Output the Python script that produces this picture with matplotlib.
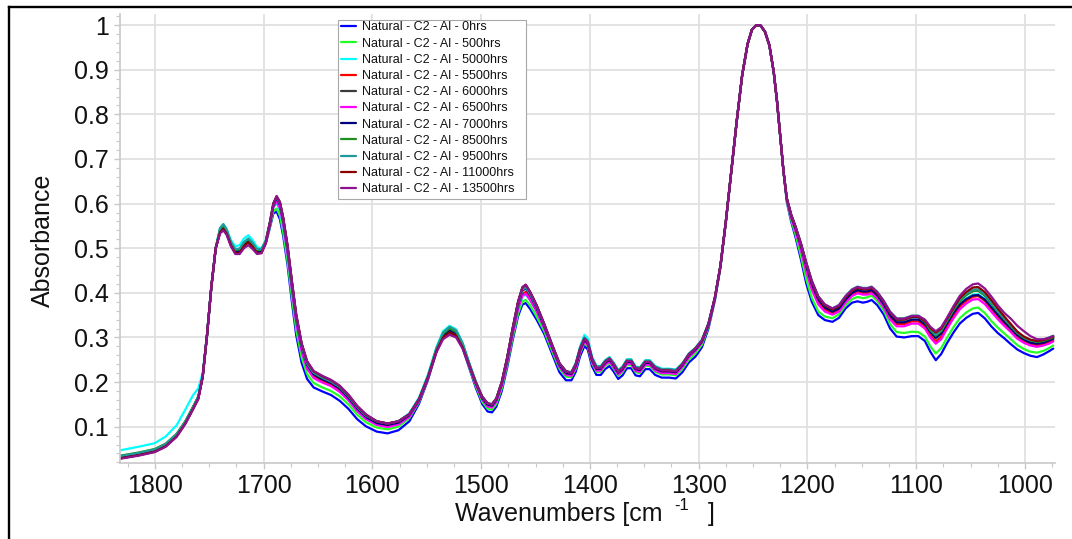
import matplotlib
matplotlib.use("Agg")
import matplotlib.pyplot as plt
from matplotlib.patches import Rectangle
from matplotlib.lines import Line2D
from matplotlib.ticker import MultipleLocator, FuncFormatter

plt.rcParams['font.family'] = ['Liberation Sans', 'DejaVu Sans']

# Wavenumber grid (cm^-1), descending
wavenumbers = [
    1832, 1815, 1800, 1790, 1780, 1772, 1765, 1760, 1756, 1752,
    1748, 1744, 1740, 1737, 1734, 1730, 1726, 1722, 1718, 1714,
    1710, 1706, 1702, 1698, 1694, 1691, 1688, 1685, 1682, 1678,
    1674, 1670, 1665, 1660, 1654, 1646, 1638, 1630, 1622, 1614,
    1606, 1596, 1586, 1576, 1566, 1557, 1549, 1541, 1535, 1529,
    1523, 1517, 1511, 1505, 1499, 1494, 1490, 1486, 1481, 1476,
    1471, 1466, 1462, 1459, 1455, 1449, 1442, 1435, 1428, 1422,
    1417, 1413, 1409, 1405, 1402, 1398, 1394, 1390, 1386, 1382,
    1378, 1374, 1370, 1366, 1362, 1358, 1354, 1349, 1345, 1340,
    1334, 1327, 1321, 1315, 1309, 1303, 1297, 1291, 1285, 1280,
    1275, 1270, 1265, 1260, 1255, 1251, 1247, 1243, 1239, 1235,
    1231, 1228, 1225, 1222, 1219, 1215, 1211, 1206, 1201, 1196,
    1190, 1184, 1177, 1171, 1165, 1159, 1154, 1149, 1145, 1141,
    1136, 1130, 1124, 1118, 1111, 1104, 1098, 1092, 1087, 1082,
    1077, 1072, 1066, 1060, 1054, 1048, 1043, 1037, 1031, 1025,
    1019, 1013, 1007, 1001, 995, 989, 983, 978, 974,
]

abs_0hrs = [
    0.031, 0.038, 0.046, 0.058, 0.080, 0.110, 0.142, 0.166, 0.212, 0.305,
    0.414, 0.500, 0.537, 0.545, 0.534, 0.507, 0.491, 0.492, 0.507, 0.515,
    0.505, 0.491, 0.491, 0.510, 0.548, 0.578, 0.582, 0.565, 0.528, 0.463,
    0.380, 0.305, 0.243, 0.207, 0.188, 0.179, 0.171, 0.158, 0.140, 0.117,
    0.101, 0.089, 0.085, 0.092, 0.112, 0.152, 0.204, 0.269, 0.301, 0.312,
    0.304, 0.276, 0.232, 0.188, 0.151, 0.134, 0.132, 0.145, 0.180, 0.233,
    0.294, 0.348, 0.374, 0.377, 0.364, 0.340, 0.308, 0.265, 0.222, 0.204,
    0.204, 0.223, 0.258, 0.281, 0.273, 0.235, 0.216, 0.216, 0.229, 0.236,
    0.223, 0.207, 0.215, 0.231, 0.231, 0.215, 0.213, 0.229, 0.229, 0.216,
    0.210, 0.210, 0.208, 0.222, 0.244, 0.257, 0.278, 0.320, 0.384, 0.457,
    0.560, 0.672, 0.785, 0.888, 0.958, 0.990, 1.000, 0.999, 0.985, 0.955,
    0.895, 0.830, 0.750, 0.672, 0.604, 0.560, 0.525, 0.475, 0.420, 0.380,
    0.350, 0.339, 0.335, 0.344, 0.365, 0.378, 0.381, 0.378, 0.380, 0.384,
    0.373, 0.352, 0.320, 0.302, 0.300, 0.303, 0.303, 0.292, 0.268, 0.249,
    0.263, 0.286, 0.310, 0.331, 0.344, 0.353, 0.355, 0.343, 0.325, 0.310,
    0.298, 0.285, 0.273, 0.265, 0.259, 0.256, 0.262, 0.269, 0.275,
]

abs_500hrs = [
    0.033, 0.040, 0.048, 0.060, 0.082, 0.110, 0.142, 0.166, 0.212, 0.305,
    0.414, 0.500, 0.538, 0.546, 0.535, 0.508, 0.493, 0.494, 0.509, 0.517,
    0.507, 0.493, 0.493, 0.511, 0.551, 0.583, 0.589, 0.573, 0.536, 0.472,
    0.391, 0.317, 0.255, 0.218, 0.198, 0.188, 0.180, 0.168, 0.150, 0.127,
    0.110, 0.098, 0.094, 0.100, 0.119, 0.156, 0.206, 0.270, 0.302, 0.313,
    0.306, 0.278, 0.234, 0.192, 0.156, 0.140, 0.138, 0.151, 0.186, 0.239,
    0.300, 0.354, 0.381, 0.384, 0.372, 0.347, 0.314, 0.271, 0.230, 0.212,
    0.211, 0.230, 0.265, 0.288, 0.280, 0.242, 0.223, 0.223, 0.236, 0.243,
    0.230, 0.214, 0.222, 0.238, 0.238, 0.222, 0.220, 0.236, 0.236, 0.223,
    0.217, 0.217, 0.215, 0.229, 0.251, 0.264, 0.284, 0.324, 0.387, 0.458,
    0.560, 0.672, 0.785, 0.888, 0.958, 0.990, 1.000, 0.999, 0.985, 0.955,
    0.895, 0.830, 0.750, 0.672, 0.606, 0.564, 0.531, 0.483, 0.430, 0.389,
    0.358, 0.347, 0.343, 0.352, 0.372, 0.386, 0.391, 0.388, 0.390, 0.394,
    0.382, 0.361, 0.330, 0.312, 0.310, 0.313, 0.312, 0.302, 0.280, 0.264,
    0.276, 0.298, 0.322, 0.343, 0.356, 0.365, 0.367, 0.355, 0.337, 0.322,
    0.309, 0.296, 0.283, 0.274, 0.268, 0.266, 0.270, 0.276, 0.282,
]

abs_5000hrs = [
    0.047, 0.055, 0.063, 0.078, 0.103, 0.138, 0.170, 0.186, 0.220, 0.307,
    0.414, 0.502, 0.545, 0.554, 0.543, 0.518, 0.504, 0.507, 0.522, 0.529,
    0.518, 0.502, 0.500, 0.517, 0.558, 0.592, 0.601, 0.585, 0.548, 0.485,
    0.405, 0.332, 0.270, 0.233, 0.213, 0.204, 0.196, 0.184, 0.165, 0.141,
    0.123, 0.110, 0.106, 0.112, 0.130, 0.166, 0.216, 0.279, 0.314, 0.326,
    0.318, 0.288, 0.243, 0.200, 0.163, 0.146, 0.144, 0.157, 0.194, 0.247,
    0.308, 0.364, 0.392, 0.396, 0.384, 0.360, 0.324, 0.282, 0.240, 0.224,
    0.221, 0.242, 0.280, 0.306, 0.298, 0.257, 0.236, 0.236, 0.249, 0.256,
    0.243, 0.227, 0.235, 0.251, 0.251, 0.235, 0.233, 0.249, 0.249, 0.236,
    0.230, 0.230, 0.228, 0.242, 0.264, 0.277, 0.295, 0.332, 0.390, 0.460,
    0.560, 0.672, 0.785, 0.888, 0.958, 0.990, 1.000, 0.999, 0.985, 0.955,
    0.895, 0.830, 0.750, 0.672, 0.610, 0.571, 0.542, 0.500, 0.453, 0.413,
    0.380, 0.364, 0.357, 0.366, 0.387, 0.402, 0.408, 0.405, 0.405, 0.408,
    0.397, 0.377, 0.349, 0.334, 0.334, 0.340, 0.340, 0.329, 0.310, 0.297,
    0.308, 0.328, 0.354, 0.375, 0.388, 0.396, 0.397, 0.387, 0.370, 0.352,
    0.338, 0.322, 0.306, 0.295, 0.288, 0.285, 0.287, 0.291, 0.295,
]

abs_5500hrs = [
    0.029, 0.036, 0.044, 0.056, 0.078, 0.107, 0.139, 0.163, 0.212, 0.305,
    0.414, 0.500, 0.536, 0.544, 0.533, 0.506, 0.490, 0.491, 0.506, 0.514,
    0.504, 0.490, 0.490, 0.513, 0.557, 0.596, 0.610, 0.596, 0.560, 0.495,
    0.415, 0.340, 0.275, 0.235, 0.213, 0.202, 0.194, 0.181, 0.162, 0.137,
    0.119, 0.106, 0.101, 0.107, 0.124, 0.159, 0.208, 0.271, 0.302, 0.313,
    0.306, 0.279, 0.238, 0.198, 0.163, 0.147, 0.145, 0.158, 0.194, 0.247,
    0.310, 0.368, 0.397, 0.402, 0.388, 0.362, 0.324, 0.280, 0.237, 0.219,
    0.216, 0.235, 0.270, 0.293, 0.285, 0.247, 0.228, 0.228, 0.241, 0.248,
    0.235, 0.219, 0.227, 0.243, 0.243, 0.227, 0.225, 0.241, 0.241, 0.228,
    0.222, 0.222, 0.220, 0.236, 0.258, 0.272, 0.291, 0.329, 0.390, 0.460,
    0.560, 0.672, 0.785, 0.888, 0.958, 0.990, 1.000, 0.999, 0.985, 0.955,
    0.895, 0.830, 0.750, 0.672, 0.610, 0.571, 0.542, 0.501, 0.453, 0.413,
    0.379, 0.362, 0.354, 0.362, 0.382, 0.397, 0.403, 0.400, 0.400, 0.403,
    0.392, 0.372, 0.345, 0.330, 0.330, 0.336, 0.336, 0.325, 0.305, 0.291,
    0.302, 0.324, 0.348, 0.369, 0.382, 0.391, 0.393, 0.382, 0.364, 0.347,
    0.331, 0.316, 0.301, 0.291, 0.285, 0.282, 0.285, 0.289, 0.294,
]

abs_6000hrs = [
    0.033, 0.040, 0.048, 0.060, 0.082, 0.110, 0.142, 0.166, 0.212, 0.305,
    0.414, 0.500, 0.540, 0.548, 0.537, 0.510, 0.494, 0.495, 0.510, 0.518,
    0.508, 0.494, 0.494, 0.515, 0.560, 0.600, 0.616, 0.603, 0.568, 0.505,
    0.425, 0.350, 0.285, 0.245, 0.223, 0.212, 0.203, 0.190, 0.170, 0.145,
    0.126, 0.112, 0.107, 0.112, 0.128, 0.162, 0.210, 0.272, 0.305, 0.317,
    0.310, 0.282, 0.240, 0.200, 0.167, 0.152, 0.150, 0.163, 0.200, 0.255,
    0.320, 0.380, 0.412, 0.418, 0.402, 0.372, 0.330, 0.285, 0.242, 0.224,
    0.221, 0.240, 0.275, 0.298, 0.290, 0.252, 0.233, 0.233, 0.246, 0.253,
    0.240, 0.224, 0.232, 0.248, 0.248, 0.232, 0.230, 0.246, 0.246, 0.233,
    0.227, 0.227, 0.225, 0.240, 0.262, 0.275, 0.293, 0.330, 0.390, 0.460,
    0.560, 0.672, 0.785, 0.888, 0.958, 0.990, 1.000, 0.999, 0.985, 0.955,
    0.895, 0.830, 0.750, 0.672, 0.612, 0.575, 0.548, 0.510, 0.465, 0.425,
    0.390, 0.372, 0.363, 0.370, 0.390, 0.405, 0.411, 0.408, 0.408, 0.411,
    0.400, 0.380, 0.355, 0.340, 0.340, 0.346, 0.346, 0.337, 0.320, 0.309,
    0.318, 0.338, 0.362, 0.383, 0.396, 0.404, 0.405, 0.395, 0.378, 0.360,
    0.343, 0.327, 0.311, 0.300, 0.293, 0.290, 0.292, 0.296, 0.300,
]

abs_6500hrs = [
    0.031, 0.038, 0.046, 0.058, 0.080, 0.109, 0.141, 0.165, 0.212, 0.305,
    0.414, 0.500, 0.537, 0.545, 0.534, 0.507, 0.491, 0.492, 0.507, 0.515,
    0.505, 0.491, 0.491, 0.512, 0.555, 0.592, 0.604, 0.590, 0.554, 0.489,
    0.408, 0.333, 0.269, 0.230, 0.209, 0.199, 0.191, 0.178, 0.159, 0.135,
    0.117, 0.104, 0.099, 0.105, 0.122, 0.158, 0.208, 0.271, 0.303, 0.314,
    0.307, 0.279, 0.237, 0.196, 0.161, 0.145, 0.143, 0.156, 0.192, 0.245,
    0.308, 0.365, 0.394, 0.398, 0.384, 0.358, 0.321, 0.277, 0.234, 0.216,
    0.214, 0.233, 0.268, 0.291, 0.283, 0.245, 0.226, 0.226, 0.239, 0.246,
    0.233, 0.217, 0.225, 0.241, 0.241, 0.225, 0.223, 0.239, 0.239, 0.226,
    0.220, 0.220, 0.218, 0.234, 0.256, 0.270, 0.289, 0.328, 0.390, 0.460,
    0.560, 0.672, 0.785, 0.888, 0.958, 0.990, 1.000, 0.999, 0.985, 0.955,
    0.895, 0.830, 0.750, 0.672, 0.609, 0.569, 0.539, 0.496, 0.447, 0.407,
    0.374, 0.358, 0.351, 0.358, 0.378, 0.393, 0.399, 0.396, 0.396, 0.399,
    0.388, 0.368, 0.340, 0.325, 0.325, 0.331, 0.331, 0.320, 0.300, 0.286,
    0.296, 0.318, 0.342, 0.363, 0.376, 0.385, 0.386, 0.375, 0.358, 0.341,
    0.326, 0.312, 0.297, 0.288, 0.282, 0.279, 0.282, 0.286, 0.291,
]

abs_7000hrs = [
    0.032, 0.039, 0.047, 0.059, 0.081, 0.110, 0.142, 0.166, 0.212, 0.305,
    0.414, 0.500, 0.539, 0.547, 0.536, 0.509, 0.493, 0.494, 0.509, 0.517,
    0.507, 0.493, 0.493, 0.514, 0.558, 0.597, 0.612, 0.598, 0.563, 0.499,
    0.419, 0.344, 0.279, 0.239, 0.217, 0.206, 0.198, 0.185, 0.165, 0.141,
    0.122, 0.108, 0.104, 0.109, 0.126, 0.160, 0.209, 0.271, 0.304, 0.316,
    0.309, 0.281, 0.239, 0.199, 0.164, 0.149, 0.147, 0.160, 0.197, 0.251,
    0.315, 0.374, 0.405, 0.410, 0.395, 0.366, 0.326, 0.281, 0.238, 0.220,
    0.218, 0.237, 0.272, 0.295, 0.287, 0.249, 0.230, 0.230, 0.243, 0.250,
    0.237, 0.221, 0.229, 0.245, 0.245, 0.229, 0.227, 0.243, 0.243, 0.230,
    0.224, 0.224, 0.222, 0.238, 0.260, 0.273, 0.291, 0.328, 0.390, 0.460,
    0.560, 0.672, 0.785, 0.888, 0.958, 0.990, 1.000, 0.999, 0.985, 0.955,
    0.895, 0.830, 0.750, 0.672, 0.611, 0.573, 0.545, 0.506, 0.460, 0.420,
    0.385, 0.367, 0.358, 0.365, 0.385, 0.400, 0.406, 0.403, 0.403, 0.406,
    0.395, 0.375, 0.349, 0.334, 0.334, 0.340, 0.340, 0.330, 0.312, 0.299,
    0.309, 0.330, 0.354, 0.374, 0.386, 0.394, 0.395, 0.385, 0.368, 0.351,
    0.335, 0.320, 0.305, 0.295, 0.288, 0.286, 0.288, 0.293, 0.297,
]

abs_8500hrs = [
    0.035, 0.042, 0.050, 0.062, 0.084, 0.112, 0.144, 0.168, 0.212, 0.305,
    0.414, 0.500, 0.543, 0.551, 0.540, 0.513, 0.496, 0.497, 0.512, 0.520,
    0.510, 0.496, 0.496, 0.515, 0.560, 0.600, 0.615, 0.602, 0.567, 0.503,
    0.423, 0.348, 0.283, 0.243, 0.221, 0.210, 0.202, 0.189, 0.169, 0.145,
    0.126, 0.112, 0.107, 0.112, 0.128, 0.163, 0.212, 0.275, 0.308, 0.320,
    0.312, 0.284, 0.241, 0.201, 0.167, 0.152, 0.150, 0.163, 0.200, 0.255,
    0.320, 0.380, 0.411, 0.416, 0.401, 0.372, 0.330, 0.285, 0.242, 0.224,
    0.222, 0.241, 0.276, 0.299, 0.291, 0.253, 0.234, 0.234, 0.247, 0.254,
    0.241, 0.225, 0.233, 0.249, 0.249, 0.233, 0.231, 0.247, 0.247, 0.234,
    0.228, 0.228, 0.226, 0.241, 0.263, 0.276, 0.294, 0.331, 0.390, 0.460,
    0.560, 0.672, 0.785, 0.888, 0.958, 0.990, 1.000, 0.999, 0.985, 0.955,
    0.895, 0.830, 0.750, 0.672, 0.612, 0.575, 0.548, 0.510, 0.465, 0.425,
    0.390, 0.372, 0.363, 0.371, 0.391, 0.406, 0.412, 0.409, 0.409, 0.412,
    0.401, 0.381, 0.356, 0.341, 0.341, 0.347, 0.347, 0.335, 0.316, 0.304,
    0.314, 0.335, 0.360, 0.381, 0.395, 0.404, 0.405, 0.394, 0.376, 0.358,
    0.341, 0.325, 0.310, 0.299, 0.293, 0.290, 0.292, 0.296, 0.300,
]

abs_9500hrs = [
    0.034, 0.041, 0.049, 0.061, 0.083, 0.111, 0.143, 0.167, 0.212, 0.305,
    0.414, 0.500, 0.545, 0.554, 0.542, 0.513, 0.498, 0.499, 0.514, 0.522,
    0.512, 0.498, 0.498, 0.517, 0.560, 0.599, 0.614, 0.600, 0.565, 0.502,
    0.422, 0.347, 0.282, 0.242, 0.221, 0.210, 0.201, 0.189, 0.169, 0.144,
    0.125, 0.112, 0.107, 0.112, 0.128, 0.162, 0.213, 0.276, 0.311, 0.324,
    0.316, 0.287, 0.243, 0.202, 0.167, 0.152, 0.150, 0.163, 0.200, 0.254,
    0.318, 0.376, 0.407, 0.412, 0.397, 0.369, 0.329, 0.284, 0.241, 0.223,
    0.223, 0.242, 0.277, 0.300, 0.292, 0.254, 0.235, 0.235, 0.248, 0.255,
    0.242, 0.226, 0.234, 0.250, 0.250, 0.234, 0.232, 0.248, 0.248, 0.235,
    0.229, 0.229, 0.227, 0.241, 0.263, 0.276, 0.294, 0.331, 0.390, 0.460,
    0.560, 0.672, 0.785, 0.888, 0.958, 0.990, 1.000, 0.999, 0.985, 0.955,
    0.895, 0.830, 0.750, 0.672, 0.612, 0.576, 0.549, 0.511, 0.467, 0.427,
    0.392, 0.374, 0.365, 0.373, 0.393, 0.408, 0.414, 0.411, 0.411, 0.414,
    0.403, 0.383, 0.358, 0.343, 0.343, 0.349, 0.349, 0.339, 0.320, 0.306,
    0.317, 0.338, 0.363, 0.385, 0.399, 0.407, 0.408, 0.397, 0.379, 0.360,
    0.343, 0.327, 0.311, 0.301, 0.294, 0.292, 0.295, 0.300, 0.304,
]

abs_11000hrs = [
    0.029, 0.036, 0.044, 0.056, 0.078, 0.107, 0.139, 0.163, 0.212, 0.305,
    0.414, 0.500, 0.536, 0.543, 0.533, 0.507, 0.489, 0.490, 0.505, 0.513,
    0.503, 0.489, 0.489, 0.512, 0.559, 0.600, 0.616, 0.603, 0.568, 0.506,
    0.426, 0.351, 0.286, 0.246, 0.224, 0.213, 0.204, 0.191, 0.171, 0.146,
    0.127, 0.112, 0.107, 0.112, 0.128, 0.162, 0.210, 0.270, 0.300, 0.311,
    0.304, 0.278, 0.238, 0.199, 0.167, 0.152, 0.150, 0.163, 0.200, 0.255,
    0.320, 0.380, 0.412, 0.418, 0.402, 0.372, 0.330, 0.285, 0.242, 0.224,
    0.220, 0.239, 0.274, 0.297, 0.289, 0.251, 0.232, 0.232, 0.245, 0.252,
    0.239, 0.223, 0.231, 0.247, 0.247, 0.231, 0.229, 0.245, 0.245, 0.232,
    0.226, 0.226, 0.224, 0.240, 0.262, 0.275, 0.293, 0.330, 0.390, 0.460,
    0.560, 0.672, 0.785, 0.888, 0.958, 0.990, 1.000, 0.999, 0.985, 0.955,
    0.895, 0.830, 0.750, 0.672, 0.612, 0.575, 0.548, 0.510, 0.465, 0.425,
    0.390, 0.372, 0.363, 0.370, 0.390, 0.405, 0.411, 0.408, 0.408, 0.411,
    0.400, 0.380, 0.355, 0.340, 0.340, 0.346, 0.346, 0.337, 0.321, 0.311,
    0.320, 0.340, 0.365, 0.388, 0.402, 0.412, 0.413, 0.402, 0.384, 0.365,
    0.347, 0.330, 0.313, 0.302, 0.295, 0.292, 0.294, 0.298, 0.302,
]

abs_13500hrs = [
    0.028, 0.035, 0.043, 0.055, 0.077, 0.106, 0.138, 0.162, 0.212, 0.305,
    0.414, 0.500, 0.533, 0.540, 0.530, 0.504, 0.487, 0.487, 0.500, 0.507,
    0.498, 0.487, 0.489, 0.512, 0.559, 0.600, 0.617, 0.604, 0.569, 0.507,
    0.427, 0.352, 0.287, 0.247, 0.225, 0.214, 0.205, 0.192, 0.172, 0.147,
    0.128, 0.112, 0.107, 0.112, 0.128, 0.162, 0.208, 0.267, 0.296, 0.306,
    0.300, 0.275, 0.236, 0.198, 0.167, 0.152, 0.150, 0.163, 0.200, 0.255,
    0.320, 0.380, 0.413, 0.418, 0.402, 0.372, 0.330, 0.285, 0.242, 0.224,
    0.220, 0.239, 0.274, 0.297, 0.289, 0.251, 0.232, 0.232, 0.245, 0.252,
    0.239, 0.223, 0.231, 0.247, 0.247, 0.231, 0.229, 0.245, 0.245, 0.232,
    0.226, 0.226, 0.224, 0.240, 0.262, 0.275, 0.293, 0.330, 0.390, 0.460,
    0.560, 0.672, 0.785, 0.888, 0.958, 0.990, 1.000, 0.999, 0.985, 0.955,
    0.895, 0.830, 0.750, 0.672, 0.612, 0.576, 0.549, 0.511, 0.467, 0.427,
    0.392, 0.374, 0.365, 0.372, 0.392, 0.407, 0.413, 0.410, 0.410, 0.413,
    0.402, 0.382, 0.357, 0.342, 0.342, 0.348, 0.348, 0.340, 0.324, 0.314,
    0.323, 0.343, 0.369, 0.393, 0.409, 0.419, 0.421, 0.410, 0.392, 0.372,
    0.355, 0.342, 0.326, 0.314, 0.303, 0.296, 0.296, 0.299, 0.303,
]

series_labels = [
    "Natural - C2 - Al - 0hrs",
    "Natural - C2 - Al - 500hrs",
    "Natural - C2 - Al - 5000hrs",
    "Natural - C2 - Al - 5500hrs",
    "Natural - C2 - Al - 6000hrs",
    "Natural - C2 - Al - 6500hrs",
    "Natural - C2 - Al - 7000hrs",
    "Natural - C2 - Al - 8500hrs",
    "Natural - C2 - Al - 9500hrs",
    "Natural - C2 - Al - 11000hrs",
    "Natural - C2 - Al - 13500hrs",
]
series_values = [
    abs_0hrs, abs_500hrs, abs_5000hrs, abs_5500hrs, abs_6000hrs, abs_6500hrs,
    abs_7000hrs, abs_8500hrs, abs_9500hrs, abs_11000hrs, abs_13500hrs,
]
series_colors = [
    "#0000ff", "#22ff22", "#00ffff", "#ff0000", "#3a3a3a", "#ff00ff",
    "#00007a", "#1f8f1f", "#1f9a9a", "#8a0000", "#8e128e",
]

W, H = 1072, 539
fig = plt.figure(figsize=(W / 100, H / 100), dpi=100)
ax = fig.add_axes([120 / W, 1 - 463 / H, (1055 - 120) / W, (463 - 14) / H])

for vals, lab, col in zip(series_values, series_labels, series_colors):
    ax.plot(wavenumbers, vals, color=col, lw=1.6, label=lab,
            solid_joinstyle="round", solid_capstyle="round")

ax.set_xlim(1832, 972.4)
ax.set_ylim(0.0186, 1.025)

ax.set_xticks(list(range(1800, 999, -100)))
ax.xaxis.set_minor_locator(MultipleLocator(25))
ax.set_yticks([0.1, 0.2, 0.3, 0.4, 0.5, 0.6, 0.7, 0.8, 0.9, 1.0])
ax.yaxis.set_minor_locator(MultipleLocator(0.02))
ax.yaxis.set_major_formatter(FuncFormatter(lambda v, p: "%g" % round(v, 2)))

ax.grid(True, which="major", color="#e0e0e0", lw=1.3)
ax.set_axisbelow(True)
for s in ("top", "right"):
    ax.spines[s].set_visible(False)
for s in ("left", "bottom"):
    ax.spines[s].set_color("#c8c8c8")
    ax.spines[s].set_linewidth(1.2)

ax.tick_params(which="both", direction="out", color="#c8c8c8", labelsize=18,
               labelcolor="#111111")
ax.tick_params(which="major", length=4, width=1.0, pad=4)
ax.tick_params(which="minor", length=3, width=0.8)

# legend entries, with a plain box drawn behind them
leg = ax.legend(loc="upper left", bbox_to_anchor=(341 / W, 1 - 21.5 / H),
                bbox_transform=fig.transFigure, fontsize=9, frameon=False,
                borderpad=0, labelspacing=0.335, handlelength=1.2,
                handletextpad=0.5, borderaxespad=0)
for t in leg.get_texts():
    t.set_color("#111111")
leg.set_zorder(6)
box = Rectangle((338 / W, 1 - 199 / H), (526 - 338) / W, (199 - 19.5) / H,
                transform=fig.transFigure, facecolor="white",
                edgecolor="#a8a8a8", lw=0.8, zorder=5, clip_on=False)
ax.add_artist(box)

# axis titles
fig.text(43 / W, 1 - 240 / H, "Absorbance", rotation=90, ha="center",
         va="center", fontsize=18, color="#111111")
fig.text(455 / W, 1 - 521 / H, "Wavenumbers [cm", ha="left",
         va="baseline", fontsize=18, color="#111111")
fig.text(674 / W, 1 - 510 / H, "-1", ha="left", va="baseline",
         fontsize=12, color="#111111")
fig.text(708 / W, 1 - 521 / H, "]", ha="left", va="baseline",
         fontsize=18, color="#111111")

# outer frame: top and left edges only
fig.add_artist(Line2D([9 / W, 9 / W], [0, 1 - 7 / H],
                      transform=fig.transFigure, color="black", lw=1.7))
fig.add_artist(Line2D([9 / W, 1.02], [1 - 7 / H, 1 - 7 / H],
                      transform=fig.transFigure, color="black", lw=1.7))

fig.savefig("out.png", dpi=100, facecolor="white", edgecolor="none")
